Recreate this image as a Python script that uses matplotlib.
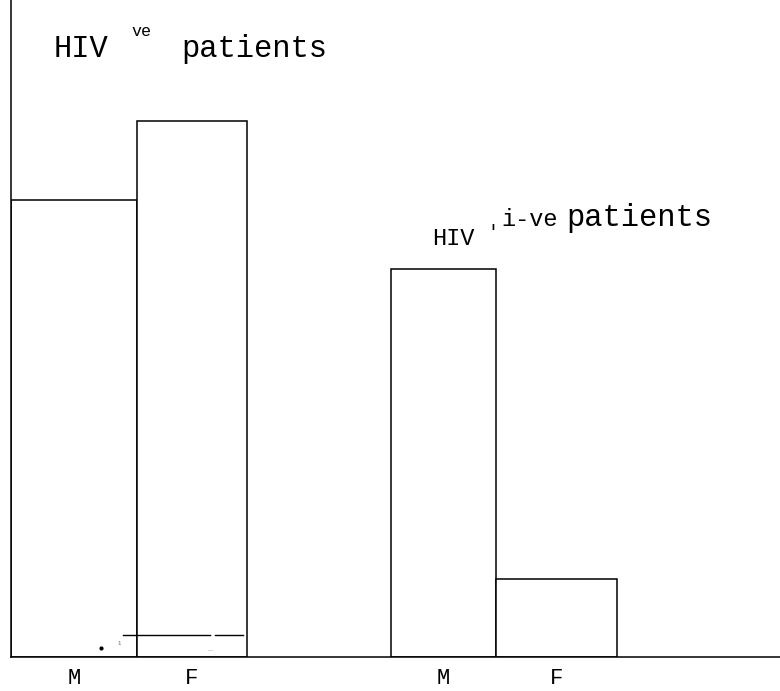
"""
Bar chart M/F for HIV +ve and -ve patients (scanned figure look).
"""
import matplotlib
matplotlib.use("Agg")
import matplotlib.pyplot as plt

# ── Data ──────────────────────────────────────────────────────────
groups = ["HIV +ve", "HIV +ve", "HIV -ve", "HIV -ve"]
categories = ["M", "F", "M", "F"]
values = [69.6, 81.6, 59.1, 11.9]

# ── Layout (x in axis pixels from left spine) ─────────────────────
bar_left = [0, 126, 380, 485]
bar_width = [126, 110, 105, 121]

W, H = 780, 691
AX_L, AX_B = 11, 657

fig = plt.figure(figsize=(W / 100, H / 100), dpi=100)
fig.patch.set_facecolor("white")
ax = fig.add_axes([AX_L / W, (H - AX_B) / H, (W - AX_L) / W, AX_B / H])
ax.set_xlim(0, W - AX_L)
ax.set_ylim(0, 100)

FONT = "Liberation Mono"

ax.bar(bar_left, values, width=bar_width, align="edge",
       facecolor="white", edgecolor="black", linewidth=1.1)

centers = [l + w / 2 for l, w in zip(bar_left, bar_width)]
ax.set_xticks(centers)
ax.set_xticklabels(categories, fontfamily=FONT, fontsize=16)
ax.tick_params(axis="x", length=0, pad=8)
ax.set_yticks([])

for side in ("top", "right"):
    ax.spines[side].set_visible(False)
for side in ("left", "bottom"):
    ax.spines[side].set_linewidth(1.1)


def ptext(x, y, s, **kw):
    """Texto en coordenadas de píxel de la figura (y desde arriba)."""
    fig.text(x / W, 1 - y / H, s, fontfamily=FONT, va="baseline", **kw)


# ── Títulos de grupo ──────────────────────────────────────────────
ptext(54, 57, "HIV", fontsize=22)
ptext(131, 36, "ve", fontsize=12)
ptext(181, 57, "patients", fontsize=22)

ptext(432, 245, "HIV", fontsize=17)
ptext(487, 237, "'", fontsize=13)
ptext(501, 226, "i-ve", fontsize=17)
ptext(566, 226, "patients", fontsize=22)

# ── Marcas del escaneo cerca de la base ───────────────────────────
to_y = lambda py: (AX_B - py) / AX_B * 100
ax.plot([123 - AX_L, 210 - AX_L], [to_y(635)] * 2, color="black", lw=1)
ax.plot([215 - AX_L, 243 - AX_L], [to_y(635)] * 2, color="black", lw=1)
ax.plot([101 - AX_L], [to_y(648)], marker="o", ms=2, color="black")
ptext(118, 645, "1", fontsize=4, color="#666666")
ptext(207, 650, "_", fontsize=6, color="#999999")

fig.savefig("out.png", dpi=100, facecolor="white")
